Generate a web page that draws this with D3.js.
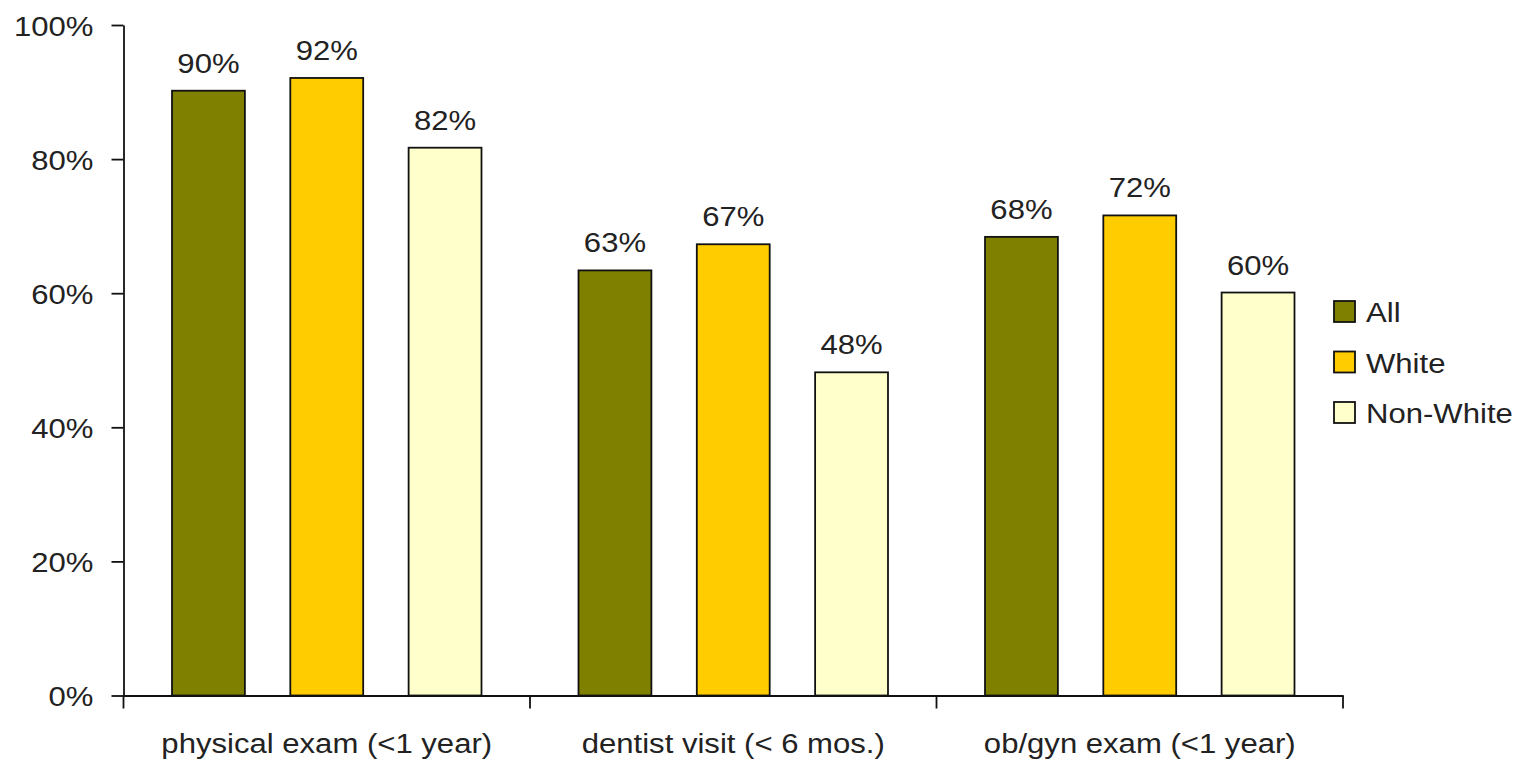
<!DOCTYPE html>
<html>
<head>
<meta charset="utf-8">
<script src="https://cdn.jsdelivr.net/npm/d3@7"></script>
<style>
  html, body { margin: 0; padding: 0; background: #fff; }
  svg { display: block; font-family: "Liberation Sans", Arial, sans-serif; }
</style>
</head>
<body>
<svg id="chart" width="1528" height="763"></svg>
<script>
const categories = ["physical exam (<1 year)", "dentist visit (< 6 mos.)", "ob/gyn exam (<1 year)"];
const seriesNames = ["All", "White", "Non-White"];
const allValues = [90.2, 63.4, 68.4];
const whiteValues = [92.1, 67.3, 71.6];
const nonWhiteValues = [81.7, 48.2, 60.1];
const yTicks = [0, 20, 40, 60, 80, 100];
const colors = ["#808000", "#FFCC00", "#FFFFCC"];

const series = [allValues, whiteValues, nonWhiteValues];
const data = categories.map((c, i) => ({
  cat: c,
  vals: seriesNames.map((s, j) => ({ name: s, value: series[j][i] }))
}));

const SX = 1.11;      // horizontal text stretch as in reference
const FS = 28;
const textColor = "#222";

const svg = d3.select("#chart");
const mLeft = 123.5, mRight = 1343, mTop = 25, mBottom = 695.5;

const y = d3.scaleLinear().domain([0, 100]).range([mBottom, mTop]);
const x0 = d3.scaleBand().domain(categories).range([mLeft, mRight]).paddingInner(0).paddingOuter(0);
const x1 = d3.scaleBand().domain(seriesNames).range([0, x0.bandwidth()]).paddingInner(0.384).paddingOuter(0.41);
const color = d3.scaleOrdinal().domain(seriesNames).range(colors);

// Bars
const groups = svg.append("g").selectAll("g").data(data).join("g")
  .attr("transform", d => `translate(${x0(d.cat)},0)`);
groups.selectAll("rect").data(d => d.vals).join("rect")
  .attr("x", d => x1(d.name))
  .attr("y", d => y(d.value))
  .attr("width", x1.bandwidth())
  .attr("height", d => y(0) - y(d.value))
  .attr("fill", d => color(d.name))
  .attr("stroke", "#111")
  .attr("stroke-width", 1.8);

// Value labels
groups.selectAll("text").data(d => d.vals).join("text")
  .attr("transform", d => `translate(${x1(d.name) + x1.bandwidth() / 2},${y(d.value) - 18}) scale(${SX},1)`)
  .attr("text-anchor", "middle")
  .attr("font-size", FS)
  .attr("fill", textColor)
  .text(d => Math.round(d.value) + "%");

// Y axis
const yAxis = d3.axisLeft(y).tickValues(yTicks).tickSize(12).tickSizeOuter(0).tickPadding(19)
  .tickFormat(d => d + "%");
const yg = svg.append("g").attr("transform", `translate(${mLeft},0)`).call(yAxis);
yg.select(".domain").attr("stroke", "#111").attr("stroke-width", 1.8);
yg.selectAll(".tick line").attr("stroke", "#111").attr("stroke-width", 1.8);
yg.selectAll(".tick text")
  .attr("font-size", FS).attr("fill", textColor)
  .attr("font-family", "Liberation Sans, Arial, sans-serif")
  .attr("x", -30 / SX)
  .attr("dy", "0.36em")
  .attr("transform", `scale(${SX},1)`);

// X axis: line, boundary ticks, category labels
const xAxis = d3.axisBottom(x0).tickSize(0).tickSizeOuter(0).tickPadding(0);
const xg = svg.append("g").attr("transform", `translate(0,${mBottom})`).call(xAxis);
xg.select(".domain").attr("stroke", "#111").attr("stroke-width", 1.8);
xg.selectAll(".tick text")
  .attr("font-size", FS).attr("fill", textColor)
  .attr("font-family", "Liberation Sans, Arial, sans-serif")
  .attr("y", 58).attr("dy", 0)
  .attr("transform", `scale(${SX},1)`)
  .attr("x", 0);

const boundaries = categories.map(c => x0(c)).concat([x0(categories[categories.length - 1]) + x0.bandwidth()]);
svg.append("g").selectAll("line").data(boundaries).join("line")
  .attr("x1", d => d).attr("x2", d => d)
  .attr("y1", mBottom).attr("y2", mBottom + 13)
  .attr("stroke", "#111").attr("stroke-width", 1.8);

// Legend
const legend = svg.append("g").attr("transform", "translate(1334,301)");
const li = legend.selectAll("g").data(seriesNames).join("g")
  .attr("transform", (d, i) => `translate(0,${i * 50.5})`);
li.append("rect")
  .attr("width", 21).attr("height", 21)
  .attr("fill", d => color(d))
  .attr("stroke", "#111").attr("stroke-width", 1.8);
li.append("text")
  .attr("transform", `translate(32,21) scale(${SX},1)`)
  .attr("font-size", FS)
  .attr("fill", textColor)
  .text(d => d);
</script>
</body>
</html>
